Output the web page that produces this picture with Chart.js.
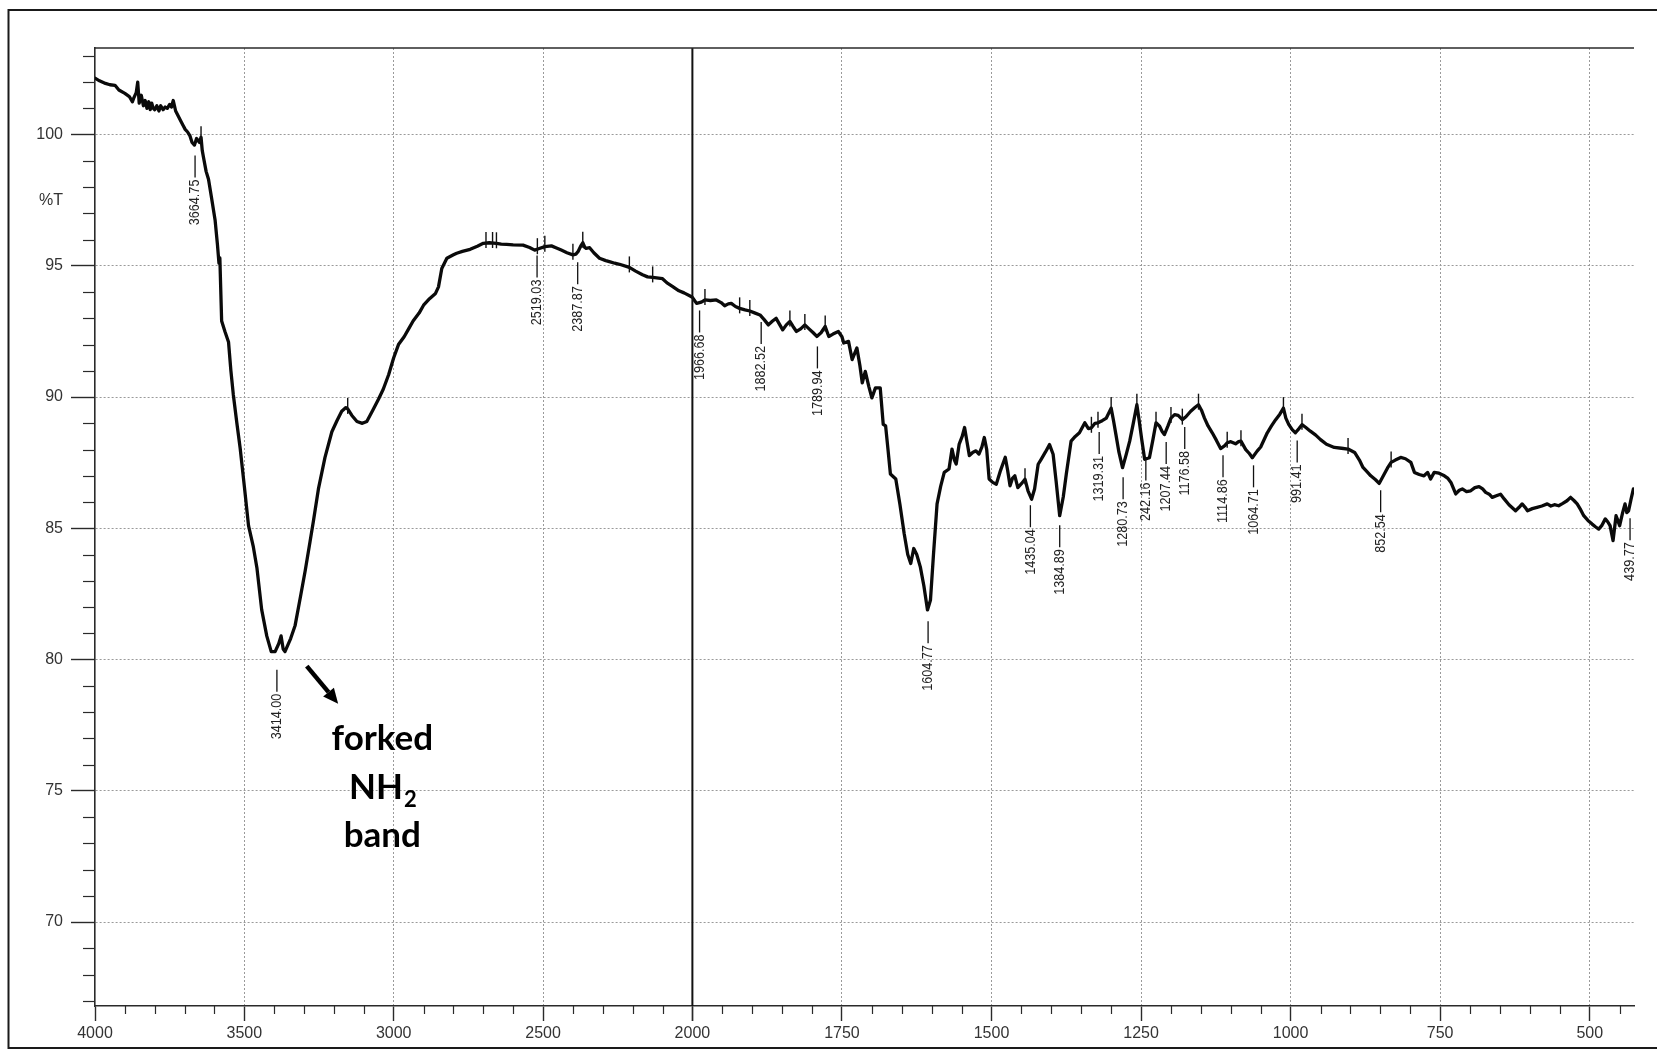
<!DOCTYPE html>
<html><head><meta charset="utf-8">
<script src="https://cdn.jsdelivr.net/npm/chart.js@4.4.1/dist/chart.umd.min.js"></script>
<style>html,body{margin:0;padding:0;background:#fff;overflow:hidden}#c{display:block}</style>
</head><body>
<canvas id="c" width="1657" height="1052"></canvas>
<script>
// ---- DATA ----
const wavenumbersLeft = [4000,3985,3965,3950,3933,3920,3900,3885,3875,3870,3862,3857,3852,3845,3838,3832,3826,3820,3815,3810,3805,3800,3793,3786,3780,3772,3765,3758,3750,3744,3738,3730,3721,3712,3705,3698,3690,3682,3675,3667,3660,3650,3645,3641,3637,3628,3620,3610,3598,3590,3585,3582,3576,3565,3553,3545,3537,3525,3514,3500,3486,3470,3458,3442,3425,3410,3397,3385,3377,3370,3364,3345,3330,3312,3296,3280,3269,3252,3230,3207,3190,3174,3160,3154,3140,3123,3105,3090,3070,3051,3035,3017,3000,2984,2965,2950,2935,2915,2900,2880,2860,2850,2839,2822,2800,2789,2770,2744,2720,2700,2680,2656,2640,2622,2600,2567,2545,2528,2515,2494,2472,2455,2439,2420,2400,2390,2383,2374,2367,2360,2356,2344,2330,2311,2290,2278,2260,2244,2211,2190,2167,2150,2133,2100,2085,2067,2045,2028,2006,2000];
const transmittanceLeft = [102.15,102.05,101.95,101.9,101.88,101.7,101.57,101.45,101.25,101.4,101.6,102.0,101.2,101.5,101.1,101.3,101.0,101.25,100.95,101.2,101.0,100.95,101.1,100.9,101.1,100.95,101.05,101.0,101.15,101.05,101.3,100.9,100.7,100.5,100.35,100.2,100.1,99.95,99.7,99.6,99.85,99.7,99.9,99.4,99.15,98.6,98.3,97.6,96.75,95.8,95.1,95.3,92.9,92.5,92.1,91.0,90.1,89.0,88.05,86.6,85.1,84.3,83.5,81.9,80.9,80.3,80.3,80.6,80.9,80.4,80.3,80.8,81.3,82.4,83.4,84.5,85.26,86.5,87.7,88.68,89.1,89.46,89.6,89.55,89.3,89.07,89.0,89.07,89.5,89.92,90.3,90.85,91.5,92.0,92.3,92.6,92.9,93.2,93.5,93.75,93.95,94.2,94.9,95.29,95.42,95.48,95.55,95.63,95.75,95.86,95.88,95.86,95.83,95.82,95.8,95.79,95.7,95.6,95.65,95.73,95.76,95.68,95.6,95.5,95.42,95.45,95.54,95.75,95.88,95.7,95.67,95.69,95.5,95.29,95.2,95.16,95.1,95.06,94.94,94.8,94.66,94.58,94.56,94.51,94.35,94.22,94.05,93.97,93.84,93.8];

const wavenumbersRight = [2000,1993,1985,1979,1970,1960,1952,1946,1940,1935,1928,1921,1912,1904,1895,1887,1880,1873,1866,1860,1855,1849,1843,1837,1832,1826,1819,1812,1805,1798,1792,1785,1778,1772,1765,1756,1750,1747,1739,1733,1725,1720,1716,1711,1705,1700,1694,1686,1681,1677,1673,1669,1660,1653,1646,1640,1635,1630,1625,1619,1613,1607,1602,1597,1591,1585,1579,1571,1566,1562,1559,1554,1549,1545,1541,1537,1531,1526,1521,1516,1512,1508,1504,1498,1492,1485,1477,1473,1469,1465,1461,1456,1450,1444,1439,1433,1428,1422,1417,1410,1403,1397,1392,1386,1380,1375,1367,1360,1353,1344,1338,1333,1327,1322,1315,1308,1300,1296,1292,1287,1281,1275,1269,1263,1257,1253,1249,1244,1236,1230,1225,1219,1215,1211,1205,1200,1194,1188,1181,1175,1167,1160,1154,1149,1144,1138,1131,1124,1117,1110,1106,1100,1092,1087,1083,1075,1069,1064,1056,1050,1039,1032,1025,1018,1012,1008,1003,997,992,986,981,975,967,958,950,940,927,915,904,893,885,879,872,866,858,852,845,838,832,825,816,808,799,793,785,777,771,766,760,752,743,737,732,724,718,713,706,699,692,685,679,674,668,663,655,649,643,635,624,618,613,608,604,596,588,580,571,565,559,552,545,538,532,526,521,515,510,503,496,490,485,480,474,470,466,461,456,453,450,445,441,438,435,431,427];
const transmittanceRight = [93.8,93.57,93.62,93.7,93.68,93.7,93.6,93.48,93.55,93.57,93.45,93.38,93.32,93.28,93.2,93.13,92.95,92.75,92.9,93.0,92.8,92.56,92.75,92.88,92.7,92.5,92.6,92.75,92.6,92.45,92.31,92.45,92.69,92.31,92.4,92.5,92.3,92.06,92.12,91.43,91.87,91.2,90.54,90.98,90.4,89.97,90.35,90.35,88.96,88.9,88.0,87.07,86.88,85.9,84.8,84.0,83.66,84.23,84.0,83.53,82.8,81.89,82.27,84.0,85.93,86.6,87.13,87.26,88.02,87.6,87.45,88.21,88.5,88.84,88.3,87.77,87.9,87.95,87.83,88.1,88.46,88.0,86.88,86.75,86.68,87.2,87.71,87.2,86.62,86.9,87.0,86.55,86.7,86.87,86.43,86.11,86.5,87.44,87.63,87.9,88.19,87.82,86.8,85.48,86.2,87.06,88.32,88.5,88.64,89.02,88.8,88.83,89.0,89.02,89.1,89.2,89.58,89.1,88.57,87.9,87.31,87.8,88.32,89.0,89.71,89.08,88.4,87.63,87.69,88.4,89.02,88.89,88.7,88.57,88.9,89.2,89.33,89.3,89.14,89.25,89.46,89.6,89.71,89.5,89.2,88.9,88.64,88.35,88.04,88.15,88.26,88.3,88.22,88.3,88.32,88.0,87.85,87.69,87.94,88.1,88.64,88.9,89.14,89.35,89.58,89.2,88.95,88.75,88.64,88.8,88.95,88.85,88.7,88.55,88.38,88.2,88.08,88.05,88.02,87.89,87.6,87.32,87.15,87.0,86.85,86.71,87.0,87.3,87.51,87.6,87.7,87.65,87.51,87.13,87.05,87.0,87.13,86.88,87.13,87.1,87.0,86.9,86.75,86.31,86.45,86.5,86.4,86.43,86.55,86.59,86.5,86.37,86.3,86.18,86.25,86.3,86.12,85.9,85.67,85.8,85.93,85.8,85.67,85.75,85.8,85.85,85.93,85.85,85.9,85.86,85.95,86.05,86.18,86.05,85.93,85.7,85.48,85.3,85.16,85.05,84.97,85.1,85.36,85.25,85.1,84.53,85.48,85.3,85.1,85.6,85.93,85.6,85.67,86.1,86.5];

const xTicksLeft = [4000, 3500, 3000, 2500, 2000];
const xTicksRight = [2000, 1750, 1500, 1250, 1000, 750, 500];
const yTicks = [70, 75, 80, 85, 90, 95, 100];
const yTitleValue = 97.5;
const yTitle = '%T';

const peakLabels    = ['3664.75','3414.00','2519.03','2387.87','1966.68','1882.52','1789.94','1604.77','1435.04','1384.89','1319.31','1280.73','242.16','1207.44','1176.58','1114.86','1064.71','991.41','852.54','439.77'];
const peakPositions = [3665,3391,2520,2384,1988,1885,1791,1606,1435,1386,1320,1280,1242,1208,1177,1113,1062,989,849.5,432.6];
const peakLevels    = [99.2,79.61,95.39,95.14,93.3,92.86,91.93,81.46,85.88,85.12,88.67,86.95,87.66,88.29,88.86,87.78,87.4,88.35,86.45,85.38];

const pickMarks = [3645,3154,2691,2669,2656,2519,2494,2400,2367,2211,2133,1979,1921,1904,1837,1812,1778,1444,1333,1322,1300,1257,1225,1200,1181,1154,1106,1083,1012,981,904,832];

const noteText = ['forked', 'NH', '2', 'band'];

// ---- CHART ----
const W = 1657, H = 1052;
const axisColor = '#2a2a2a';
const gridColor = '#9a9a9a';
const tickFont = {family: "'Liberation Sans', Arial, sans-serif", size: 16};

function interp(w) {
  const xs = w >= 2000 ? wavenumbersLeft : wavenumbersRight;
  const ys = w >= 2000 ? transmittanceLeft : transmittanceRight;
  for (let i = 0; i < xs.length - 1; i++) {
    if (w <= xs[i] && w >= xs[i+1]) {
      const f = (xs[i] - w) / (xs[i] - xs[i+1]);
      return ys[i] + f * (ys[i+1] - ys[i]);
    }
  }
  return ys[ys.length-1];
}

const annotPlugin = {
  id: 'annot',
  afterDatasetsDraw(chart) {
    const {ctx, chartArea, scales} = chart;
    const ys = scales.y;
    const px = w => (w >= 2000 ? scales.x1 : scales.x2).getPixelForValue(w);
    ctx.save();
    const xb = scales.x1.getPixelForValue(2000);
    ctx.strokeStyle = '#111';
    ctx.lineWidth = 2;
    ctx.beginPath(); ctx.moveTo(xb, chartArea.top); ctx.lineTo(xb, chartArea.bottom); ctx.stroke();

    ctx.lineWidth = 1.4;
    ctx.strokeStyle = '#111';
    pickMarks.forEach(w => {
      const x = px(w), y = ys.getPixelForValue(interp(w));
      ctx.beginPath(); ctx.moveTo(x, y - 11); ctx.lineTo(x, y + 5); ctx.stroke();
    });

    ctx.fillStyle = '#222';
    ctx.font = "15px 'Liberation Sans', Arial, sans-serif";
    peakLabels.forEach((txt, i) => {
      const x = px(peakPositions[i]);
      const y = ys.getPixelForValue(peakLevels[i]);
      ctx.lineWidth = 1.3;
      ctx.beginPath(); ctx.moveTo(x, y); ctx.lineTo(x, y + 22); ctx.stroke();
      ctx.save();
      ctx.translate(x, y + 24);
      ctx.rotate(-Math.PI / 2);
      ctx.scale(0.84, 1);
      ctx.textAlign = 'right';
      ctx.textBaseline = 'middle';
      ctx.fillText(txt, 0, 0);
      ctx.restore();
    });

    const ax1 = scales.x1.getPixelForValue(3291), ay1 = ys.getPixelForValue(79.75);
    const ax2 = scales.x1.getPixelForValue(3186), ay2 = ys.getPixelForValue(78.32);
    const ang = Math.atan2(ay2 - ay1, ax2 - ax1);
    const hl = 15, hw = 7;
    const bx = ax2 - hl * Math.cos(ang), by = ay2 - hl * Math.sin(ang);
    ctx.strokeStyle = '#000'; ctx.fillStyle = '#000';
    ctx.lineWidth = 4.5; ctx.lineCap = 'butt';
    ctx.beginPath(); ctx.moveTo(ax1, ay1); ctx.lineTo(bx, by); ctx.stroke();
    ctx.beginPath();
    ctx.moveTo(ax2, ay2);
    ctx.lineTo(bx + hw * Math.sin(ang), by - hw * Math.cos(ang));
    ctx.lineTo(bx - hw * Math.sin(ang), by + hw * Math.cos(ang));
    ctx.closePath(); ctx.fill();

    const cx = scales.x1.getPixelForValue(3038);
    ctx.fillStyle = '#000';
    ctx.textBaseline = 'alphabetic';
    ctx.textAlign = 'center';
    const big = "bold 35px Lato, 'Open Sans', sans-serif", small = "bold 22px Lato, 'Open Sans', sans-serif";
    ctx.font = big;
    ctx.fillText(noteText[0], cx, ys.getPixelForValue(76.55));
    ctx.fillText(noteText[3], cx, ys.getPixelForValue(72.86));
    ctx.font = big; const w1 = ctx.measureText(noteText[1]).width;
    ctx.font = small; const w2 = ctx.measureText(noteText[2]).width;
    const sx = cx - (w1 + w2) / 2;
    const nby = ys.getPixelForValue(74.7);
    ctx.textAlign = 'left';
    ctx.font = big; ctx.fillText(noteText[1], sx, nby);
    ctx.font = small; ctx.fillText(noteText[2], sx + w1 + 1, nby + 8);
    ctx.restore();
  },
  afterDraw(chart) {
    const {ctx, chartArea, scales} = chart;
    ctx.save();
    ctx.strokeStyle = axisColor;
    ctx.lineWidth = 1.2;
    for (let v = 3900; v > 2000; v -= 100) {
      if (v % 500 === 0) continue;
      const x = Math.round(scales.x1.getPixelForValue(v)) + 0.5;
      ctx.beginPath(); ctx.moveTo(x, chartArea.bottom); ctx.lineTo(x, chartArea.bottom + 8); ctx.stroke();
    }
    for (let v = 1950; v >= 450; v -= 50) {
      if (v % 250 === 0) continue;
      const x = Math.round(scales.x2.getPixelForValue(v)) + 0.5;
      ctx.beginPath(); ctx.moveTo(x, chartArea.bottom); ctx.lineTo(x, chartArea.bottom + 8); ctx.stroke();
    }
    for (let v = 67; v <= 103; v++) {
      if (v % 5 === 0) continue;
      const y = Math.round(scales.y.getPixelForValue(v)) + 0.5;
      ctx.beginPath(); ctx.moveTo(chartArea.left, y); ctx.lineTo(chartArea.left - 12, y); ctx.stroke();
    }
    ctx.lineWidth = 1.6;
    ctx.beginPath(); ctx.moveTo(chartArea.left, chartArea.top); ctx.lineTo(chartArea.right, chartArea.top); ctx.stroke();
    ctx.strokeStyle = '#1a1a1a';
    ctx.lineWidth = 2;
    ctx.strokeRect(8.5, 10, W + 20, H - 10 - 4);
    ctx.restore();
  }
};

function gridCol(ctx) {
  const v = ctx.tick && ctx.tick.value;
  if (v === 4000 || v === 2000) return 'rgba(0,0,0,0)';
  return gridColor;
}

const lineStyle = {borderColor: '#0a0a0a', borderWidth: 3.3, pointRadius: 0, tension: 0,
  borderJoinStyle: 'round', borderCapStyle: 'round', fill: false};

const chart = new Chart(document.getElementById('c'), {
  type: 'line',
  data: {
    datasets: [
      Object.assign({data: wavenumbersLeft.map((w, i) => ({x: w, y: transmittanceLeft[i]})), xAxisID: 'x1', yAxisID: 'y'}, lineStyle),
      Object.assign({data: wavenumbersRight.map((w, i) => ({x: w, y: transmittanceRight[i]})), xAxisID: 'x2', yAxisID: 'y'}, lineStyle)
    ]
  },
  options: {
    responsive: false,
    devicePixelRatio: 1,
    animation: false,
    layout: {padding: {top: 48, right: 23, left: 0, bottom: 0}},
    plugins: {legend: {display: false}, tooltip: {enabled: false}},
    scales: {
      x1: {
        type: 'linear', position: 'bottom', stack: 'wn', stackWeight: 597,
        min: 2000, max: 4000, reverse: true,
        afterBuildTicks: s => { s.ticks = xTicksLeft.map(v => ({value: v})); },
        afterFit: s => { s.height = 46; },
        ticks: {font: tickFont, color: '#333', padding: 3, maxRotation: 0, autoSkip: false, callback: v => String(v)},
        grid: {color: gridCol, lineWidth: 1, tickColor: axisColor, tickLength: 15, tickWidth: 1.4},
        border: {display: true, color: axisColor, width: 1.6, dash: [2, 2]}
      },
      x2: {
        type: 'linear', position: 'bottom', stack: 'wn', stackWeight: 941,
        min: 426, max: 2000, reverse: true,
        afterBuildTicks: s => { s.ticks = xTicksRight.map(v => ({value: v})); },
        afterFit: s => { s.height = 46; },
        ticks: {font: tickFont, color: '#333', padding: 3, maxRotation: 0, autoSkip: false, callback: v => (v === 2000 ? '' : String(v))},
        grid: {color: gridCol, lineWidth: 1, tickColor: axisColor, tickLength: 15, tickWidth: 1.4},
        border: {display: true, color: axisColor, width: 1.6, dash: [2, 2]}
      },
      y: {
        type: 'linear', position: 'left', min: 66.8, max: 103.3,
        afterBuildTicks: s => { s.ticks = yTicks.concat([yTitleValue]).sort((a, b) => a - b).map(v => ({value: v})); },
        afterFit: s => { s.width = 95; },
        ticks: {font: tickFont, color: '#333', padding: 8, autoSkip: false, callback: v => (v === yTitleValue ? yTitle : String(v))},
        grid: {
          color: c => (c.tick && c.tick.value === yTitleValue ? 'rgba(0,0,0,0)' : gridColor),
          lineWidth: 1,
          tickColor: c => (c.tick && c.tick.value === yTitleValue ? 'rgba(0,0,0,0)' : axisColor),
          tickLength: 24, tickWidth: 1.4
        },
        border: {display: true, color: axisColor, width: 1.6, dash: [2, 2]}
      }
    }
  },
  plugins: [annotPlugin]
});
</script>
</body></html>
